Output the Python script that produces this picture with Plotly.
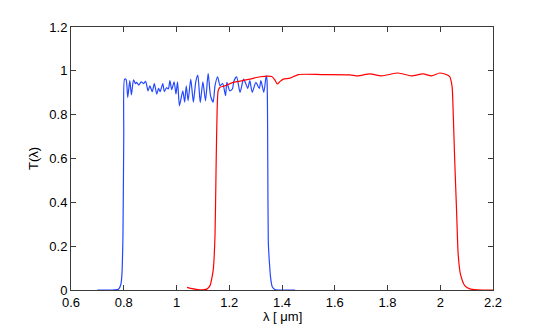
import plotly.graph_objects as go

# ---- blue curve ----
blue_lam = [0.700, 0.760, 0.780, 0.789, 0.793, 0.797, 0.800, 0.803, 0.809, 0.815,
            0.823, 0.829, 0.837, 0.844, 0.849, 0.857, 0.866, 0.875, 0.883, 0.892,
            0.899, 0.908, 0.916, 0.925, 0.932, 0.938, 0.948, 0.954, 0.962, 0.969,
            0.975, 0.982, 0.991, 0.998, 1.004, 1.011, 1.017, 1.024, 1.031, 1.037,
            1.044, 1.054, 1.064, 1.073, 1.081, 1.090, 1.100, 1.110, 1.120, 1.129,
            1.139, 1.146, 1.156, 1.165, 1.175, 1.186, 1.191, 1.202, 1.212, 1.218,
            1.228, 1.241, 1.254, 1.261, 1.270, 1.278, 1.287, 1.301, 1.314, 1.320,
            1.331, 1.340, 1.343, 1.346, 1.348, 1.352, 1.357, 1.363, 1.373, 1.450]
blue_T = [0.0, 0.0, 0.003, 0.025, 0.07, 0.25, 0.70, 0.962, 0.960, 0.879,
          0.955, 0.890, 0.959, 0.942, 0.947, 0.935, 0.950, 0.942, 0.952, 0.909,
          0.932, 0.905, 0.942, 0.894, 0.920, 0.905, 0.942, 0.905, 0.923, 0.917,
          0.955, 0.914, 0.950, 0.894, 0.950, 0.840, 0.872, 0.909, 0.857, 0.932,
          0.864, 0.962, 0.857, 0.950, 0.980, 0.855, 0.950, 0.863, 0.988, 0.887,
          0.857, 0.932, 0.973, 0.932, 0.942, 0.887, 0.947, 0.909, 0.917, 0.955,
          0.973, 0.902, 0.962, 0.947, 0.920, 0.955, 0.902, 0.947, 0.920, 0.955,
          0.902, 0.977, 0.960, 0.60, 0.22, 0.13, 0.054, 0.015, 0.002, 0.0]

# ---- red curve ----
red_lam = [1.040, 1.060, 1.080, 1.100, 1.115, 1.127, 1.135, 1.140, 1.146, 1.150,
           1.154, 1.158, 1.165, 1.180, 1.215, 1.250, 1.279, 1.317, 1.361, 1.372,
           1.382, 1.393, 1.405, 1.430, 1.462, 1.550, 1.657, 1.688, 1.733, 1.778,
           1.840, 1.890, 1.935, 1.967, 1.998, 2.025, 2.036, 2.045, 2.049, 2.055,
           2.062, 2.068, 2.077, 2.093, 2.112, 2.140, 2.200]
red_T = [0.012, 0.006, 0.002, 0.001, 0.004, 0.02, 0.06, 0.10, 0.25, 0.55,
         0.82, 0.91, 0.925, 0.930, 0.947, 0.955, 0.962, 0.973, 0.974, 0.960,
         0.940, 0.952, 0.962, 0.967, 0.983, 0.983, 0.982, 0.977, 0.986, 0.977,
         0.990, 0.977, 0.986, 0.977, 0.990, 0.982, 0.973, 0.927, 0.813, 0.585,
         0.358, 0.162, 0.070, 0.020, 0.005, 0.001, 0.0]

x_ticks = [0.6, 0.8, 1.0, 1.2, 1.4, 1.6, 1.8, 2.0, 2.2]
y_ticks = [0, 0.2, 0.4, 0.6, 0.8, 1.0, 1.2]

fig = go.Figure()

fig.add_trace(go.Scatter(x=blue_lam, y=blue_T, mode="lines",
                         line=dict(color="#2448ff", width=1.2, shape="spline", smoothing=0.6)))
fig.add_trace(go.Scatter(x=red_lam, y=red_T, mode="lines",
                         line=dict(color="#ff0000", width=1.2, shape="spline", smoothing=0.6)))

font = dict(family="Liberation Sans, Arial", size=13, color="black")
axis_style = dict(
    showline=True, mirror="ticks", linecolor="#3a3a3a", linewidth=1,
    ticks="inside", ticklen=5, tickcolor="#3a3a3a",
    showgrid=False, zeroline=False, tickfont=font,
)

# page body has an 8px margin at top/left, so the figure is shrunk by that amount
fig.update_layout(
    width=537, height=318,
    margin=dict(l=63, r=52, t=16, b=36),
    paper_bgcolor="white", plot_bgcolor="white",
    showlegend=False,
    xaxis=dict(range=[0.6, 2.2], tickvals=x_ticks, **axis_style),
    yaxis=dict(range=[0, 1.2], tickvals=y_ticks, **axis_style),
    annotations=[
        dict(text="λ [ μm]", xref="paper", yref="paper", x=0.5, y=0,
             yanchor="top", yshift=-17, showarrow=False, font=font),
        dict(text="T(λ)", xref="paper", yref="paper", x=0, y=0.5,
             xanchor="right", xshift=-28, textangle=-90, showarrow=False, font=font),
    ],
)

fig.write_html("out.html")
